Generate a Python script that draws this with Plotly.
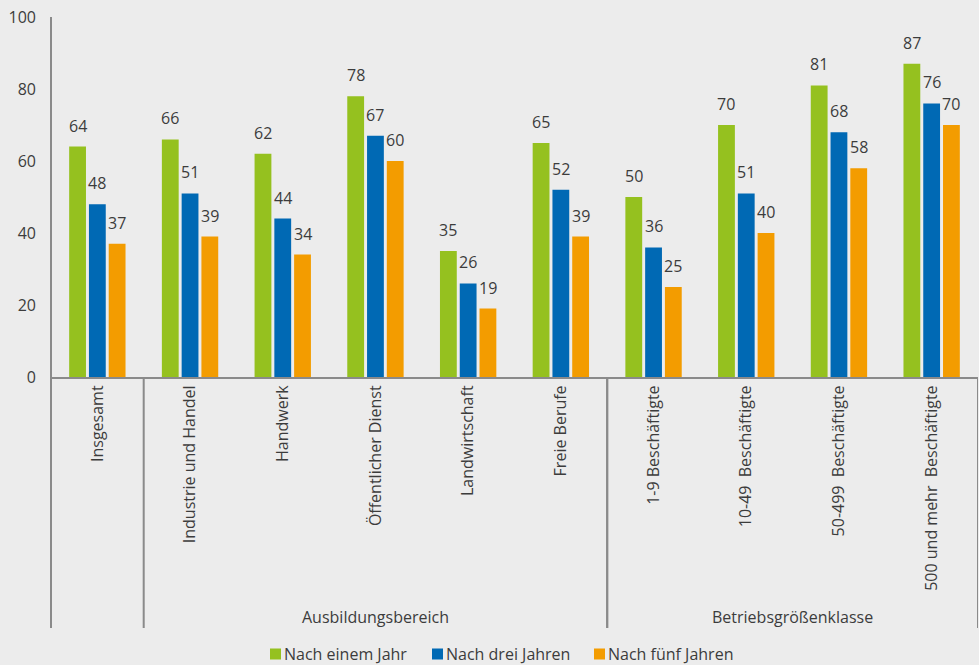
import plotly.graph_objects as go

# Categories (x axis) and the three time horizons
categories = [
    "Insgesamt",
    "Industrie und Handel",
    "Handwerk",
    "Öffentlicher Dienst",
    "Landwirtschaft",
    "Freie Berufe",
    "1-9 Beschäftigte",
    "10-49\u00a0 Beschäftigte",
    "50-499\u00a0 Beschäftigte",
    "500 und mehr\u00a0 Beschäftigte",
]
series_names = ["Nach einem Jahr", "Nach drei Jahren", "Nach fünf Jahren"]
nach_einem_jahr = [64, 66, 62, 78, 35, 65, 50, 70, 81, 87]
nach_drei_jahren = [48, 51, 44, 67, 26, 52, 36, 51, 68, 76]
nach_fuenf_jahren = [37, 39, 34, 60, 19, 39, 25, 40, 58, 70]
y_ticks = [0, 20, 40, 60, 80, 100]

# Grouping of the categories below the axis
groups = [
    {"label": "Ausbildungsbereich", "start": 0.5, "end": 5.5},
    {"label": "Betriebsgrößenklasse", "start": 5.5, "end": 9.5},
]

colors = ["#95c11f", "#0069b4", "#f39c00"]
series_values = [nach_einem_jahr, nach_drei_jahren, nach_fuenf_jahren]

FONT = "Open Sans, Noto Sans, sans-serif"
TEXT = "#3c3c3c"
LINE = "#8a8a8a"
BG = "#ececec"

W, H = 979, 665
M_L, M_R, M_T, M_B = 51, 1, 17, 288
PLOT_W = W - M_L - M_R
PLOT_H = H - M_T - M_B

BARGAP = 0.36
BARGROUPGAP = 0.15


def px_x(px):
    """pixel column -> paper x"""
    return (px - M_L) / PLOT_W


def px_y(py):
    """pixel row -> paper y"""
    return (H - M_B - py) / PLOT_H


fig = go.Figure()
for name, vals, col in zip(series_names, series_values, colors):
    fig.add_trace(go.Bar(
        x=list(range(len(categories))), y=vals, name=name,
        marker=dict(color=col, line=dict(width=0)),
        hoverinfo="x+y", showlegend=False,
    ))

# Value labels above each bar, placed at the bar centres
slot = (1 - BARGAP) / len(series_values)
annotations = []
for i, vals in enumerate(series_values):
    offset = (i - 1) * slot
    for j, v in enumerate(vals):
        annotations.append(dict(
            x=j + offset, y=v, xref="x", yref="y", text=str(v),
            showarrow=False, yanchor="bottom", yshift=8,
            font=dict(family=FONT, size=16, color=TEXT),
        ))

sep_bottom = px_y(628)
shapes = [
    # left axis line continued down through the label area
    dict(type="line", xref="paper", yref="paper", x0=0, x1=0, y0=1, y1=sep_bottom,
         line=dict(color=LINE, width=2)),
]
for g in groups:
    for xv in (g["start"], g["end"]):
        shapes.append(dict(type="line", xref="x", yref="paper", x0=xv, x1=xv,
                           y0=0, y1=sep_bottom, line=dict(color=LINE, width=2)))
    annotations.append(dict(
        x=(g["start"] + g["end"]) / 2, y=px_y(617), xref="x", yref="paper",
        text=g["label"], showarrow=False, yanchor="middle",
        font=dict(family=FONT, size=16, color=TEXT),
    ))

# Legend row: small colour squares with the series names next to them
legend_left = [270, 432, 594]
sq = 11
leg_cy = 654
for name, col, lx in zip(series_names, colors, legend_left):
    shapes.append(dict(type="rect", xref="paper", yref="paper",
                       x0=px_x(lx), x1=px_x(lx + sq),
                       y0=px_y(leg_cy + sq / 2), y1=px_y(leg_cy - sq / 2),
                       fillcolor=col, line=dict(width=0)))
    annotations.append(dict(
        x=px_x(lx + sq + 1), y=px_y(leg_cy), xref="paper", yref="paper",
        text=name, showarrow=False, xanchor="left", yanchor="middle",
        font=dict(family=FONT, size=16, color=TEXT),
    ))

fig.update_layout(
    width=W, height=H,
    margin=dict(l=M_L, r=M_R, t=M_T, b=M_B),
    paper_bgcolor=BG, plot_bgcolor=BG,
    barmode="group", bargap=BARGAP, bargroupgap=BARGROUPGAP,
    font=dict(family=FONT, size=16, color=TEXT),
    shapes=shapes, annotations=annotations,
    showlegend=False,
    xaxis=dict(
        tickmode="array", tickvals=list(range(len(categories))), ticktext=categories,
        range=[-0.5, len(categories) - 0.5],
        tickangle=-90, showline=True, linecolor=LINE, linewidth=2,
        ticks="", showgrid=False, zeroline=False,
        tickfont=dict(family=FONT, size=16, color=TEXT),
    ),
    yaxis=dict(
        range=[0, 100], tickvals=y_ticks, showline=False,
        ticks="", showgrid=False, zeroline=False,
        ticklabelstandoff=14,
        tickfont=dict(family=FONT, size=16, color=TEXT),
    ),
)

fig.write_html("out.html")
